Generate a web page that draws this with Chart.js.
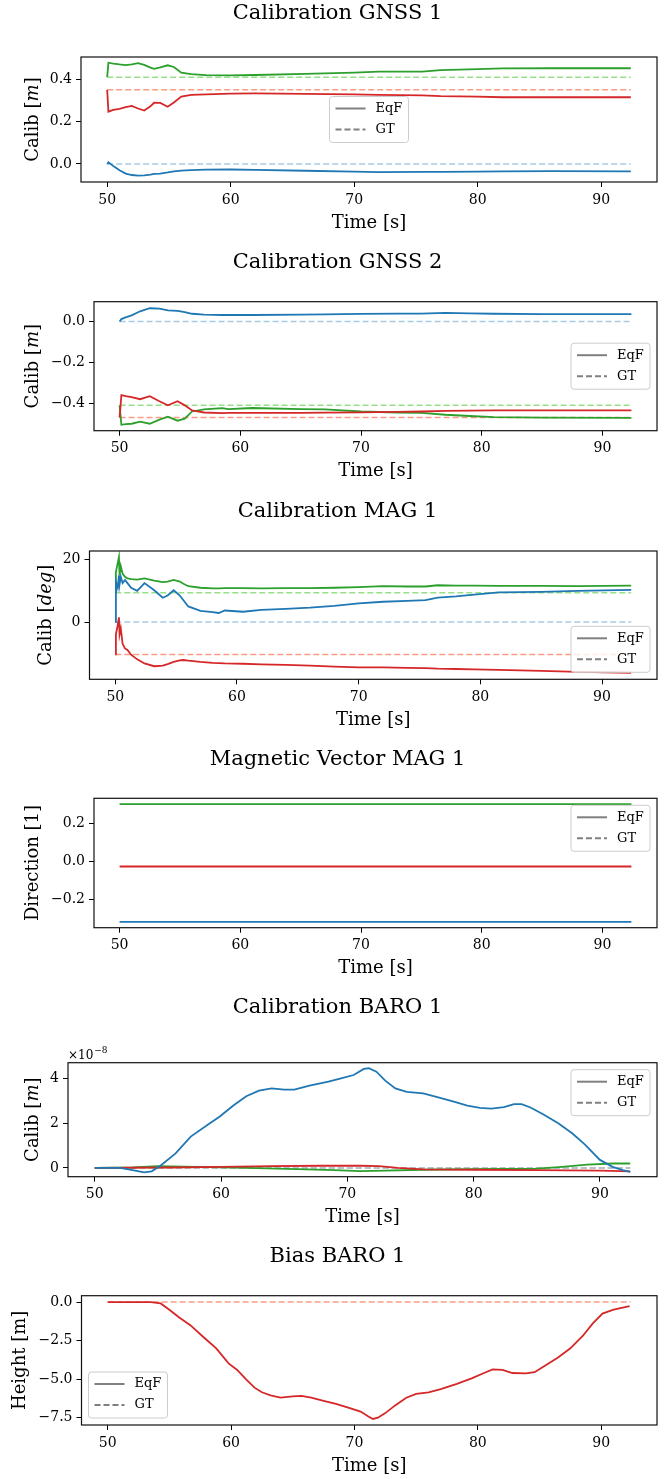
<!DOCTYPE html>
<html>
<head>
<meta charset="utf-8">
<script src="https://cdn.jsdelivr.net/npm/chart.js@4.4.0/dist/chart.umd.min.js"></script>
<style>
  body { margin: 0; background: #fff; width: 666px; height: 1479px; position: relative; overflow: hidden; }
  .panel { position: absolute; left: 0; width: 666px; height: 236px; }
</style>
</head>
<body>
<div class="panel" style="top:0px"><canvas id="c1" width="666" height="236"></canvas></div>
<div class="panel" style="top:249px"><canvas id="c2" width="666" height="236"></canvas></div>
<div class="panel" style="top:498px"><canvas id="c3" width="666" height="236"></canvas></div>
<div class="panel" style="top:746px"><canvas id="c4" width="666" height="236"></canvas></div>
<div class="panel" style="top:994px"><canvas id="c5" width="666" height="236"></canvas></div>
<div class="panel" style="top:1243px"><canvas id="c6" width="666" height="236"></canvas></div>
<script>
// ---- data ----
var xTicks = [50, 60, 70, 80, 90];
var legendLabels = ['EqF', 'GT'];
var gtT = [50, 92.4];

// Calibration GNSS 1
var g1T     = [50, 50.1, 50.5, 51, 51.5, 52, 52.5, 53, 53.5, 53.8, 54.3, 54.9, 55.4, 56, 56.8, 58, 60, 62, 66, 70, 72, 75.5, 77, 80, 82, 86, 92.4];
var g1Green = [0.41, 0.478, 0.474, 0.47, 0.467, 0.47, 0.476, 0.468, 0.455, 0.449, 0.456, 0.466, 0.458, 0.431, 0.424, 0.419, 0.418, 0.42, 0.425, 0.431, 0.436, 0.436, 0.443, 0.448, 0.451, 0.452, 0.452];
var g1Red   = [0.35, 0.247, 0.255, 0.26, 0.268, 0.274, 0.262, 0.252, 0.272, 0.289, 0.288, 0.27, 0.29, 0.318, 0.326, 0.329, 0.332, 0.333, 0.331, 0.329, 0.326, 0.324, 0.32, 0.318, 0.315, 0.315, 0.315];
var g1Blue  = [0, 0.008, -0.01, -0.03, -0.045, -0.052, -0.055, -0.054, -0.05, -0.047, -0.045, -0.04, -0.035, -0.031, -0.029, -0.027, -0.026, -0.028, -0.032, -0.036, -0.038, -0.037, -0.037, -0.036, -0.035, -0.034, -0.035];
var g1GT    = { blue: 0, green: 0.41, red: 0.35 };

// Calibration GNSS 2
var g2T     = [50, 50.15, 50.5, 51, 51.7, 52.5, 53.3, 54, 54.8, 55.4, 56, 57, 58.5, 59, 61, 65, 67, 70, 73, 75, 77, 79, 81, 85, 92.4];
var g2Blue  = [0, 0.012, 0.02, 0.03, 0.05, 0.065, 0.063, 0.055, 0.052, 0.046, 0.038, 0.034, 0.032, 0.032, 0.032, 0.034, 0.035, 0.037, 0.039, 0.039, 0.042, 0.04, 0.038, 0.036, 0.036];
var g2Red   = [-0.47, -0.36, -0.365, -0.37, -0.38, -0.365, -0.39, -0.41, -0.39, -0.41, -0.435, -0.445, -0.448, -0.447, -0.447, -0.447, -0.446, -0.444, -0.442, -0.44, -0.437, -0.436, -0.435, -0.435, -0.435];
var g2Green = [-0.41, -0.505, -0.502, -0.5, -0.49, -0.5, -0.48, -0.465, -0.485, -0.475, -0.44, -0.43, -0.424, -0.428, -0.423, -0.428, -0.43, -0.44, -0.445, -0.447, -0.456, -0.462, -0.468, -0.47, -0.471];
var g2GT    = { blue: 0, green: -0.41, red: -0.47 };

// Calibration MAG 1 (deg)
var m3T     = [50, 50.05, 50.2, 50.3, 50.35, 50.45, 50.6, 50.8, 51, 51.3, 51.8, 52.4, 53.2, 53.9, 54.3, 54.8, 55.3, 55.6, 56, 57, 58, 58.5, 59, 60.5, 62, 64, 66, 68, 70, 72, 74, 75.5, 76.5, 78, 79.5, 81.5, 85, 88, 92.4];
var m3Blue  = [0, 13, 11, 15, 12, 14.5, 12.5, 13.5, 12.5, 11, 10, 12.5, 10.2, 7.8, 8.5, 10.2, 8.5, 7, 5, 3.6, 3.2, 2.9, 3.7, 3.3, 3.9, 4.2, 4.6, 5.2, 6.0, 6.5, 6.8, 7.0, 7.8, 8.2, 8.8, 9.5, 9.7, 10.0, 10.3];
var m3Green = [9.4, 16, 19, 20.9, 15, 18, 15.5, 14.5, 14, 13.8, 13.6, 14, 13.3, 12.8, 13, 13.5, 13, 12.3, 11.5, 11, 10.8, 10.8, 10.9, 10.9, 10.8, 10.9, 10.9, 11, 11.2, 11.5, 11.4, 11.4, 11.8, 11.7, 11.7, 11.6, 11.6, 11.5, 11.7];
var m3Red   = [-10.4, -4, -1, 1.5, -4, -2, -7, -8.5, -9, -10.5, -12, -13.3, -14.2, -14, -13.5, -12.8, -12.3, -12.2, -12.4, -12.8, -13.1, -13.2, -13.3, -13.4, -13.6, -13.8, -14, -14.3, -14.6, -14.6, -14.7, -14.8, -15, -15.1, -15.2, -15.4, -15.7, -16, -16.3];
var m3GT    = { blue: 0, green: 9.4, red: -10.4 };

// Magnetic Vector MAG 1
var v4T     = [50, 92.4];
var v4Green = [0.303, 0.303];
var v4Red   = [-0.027, -0.027];
var v4Blue  = [-0.32, -0.32];

// Calibration BARO 1 (values in units of 1e-8 m)
var b5T     = [50, 52, 53, 53.9, 54.5, 55.2, 56.4, 57.6, 59, 59.9, 61, 62, 63, 64, 65, 65.8, 67, 68.5, 69.5, 70.5, 71.3, 71.7, 72.3, 73, 73.8, 74.7, 76, 77.2, 78.5, 79.5, 80.5, 81.4, 82.4, 83.2, 83.8, 84.5, 85.5, 86.7, 87.8, 88.8, 90, 91, 91.8, 92.4];
var b5Blue  = [0, 0, -0.1, -0.2, -0.15, 0.1, 0.65, 1.4, 1.95, 2.3, 2.8, 3.2, 3.45, 3.55, 3.5, 3.5, 3.68, 3.85, 4.0, 4.15, 4.42, 4.45, 4.3, 3.9, 3.55, 3.4, 3.33, 3.15, 2.95, 2.78, 2.68, 2.65, 2.72, 2.85, 2.85, 2.7, 2.4, 2.0, 1.55, 1.05, 0.36, 0.05, -0.1, -0.18];
var r5T     = [50, 56, 60, 64, 68, 71, 72.5, 74, 76, 80, 85, 90, 92.4];
var b5Red   = [0, 0.02, 0.05, 0.08, 0.1, 0.1, 0.08, 0, -0.06, -0.08, -0.1, -0.12, -0.15];
var g5T     = [50, 53, 55, 58, 62, 66, 69, 71, 73, 76, 80, 85, 87, 89, 91, 92.4];
var b5Green = [0, 0.02, 0.08, 0.05, 0, -0.05, -0.1, -0.14, -0.12, -0.08, -0.05, -0.03, 0.05, 0.15, 0.2, 0.2];
var b5GT    = { blue: 0, green: 0, red: 0 };

// Bias BARO 1
var h6T     = [50, 53.5, 54.3, 55, 55.8, 56.7, 57.8, 58.8, 59.8, 60.5, 61.2, 61.9, 62.5, 63.2, 64, 65, 65.7, 66.5, 67.5, 68.5, 69.5, 70.5, 71.1, 71.5, 71.9, 72.5, 73.3, 74.2, 75, 76, 77, 78.3, 79.5, 80.5, 81.2, 82, 82.8, 83.9, 84.6, 85.5, 86.5, 87.5, 88.5, 89.3, 90.1, 91, 92.3];
var h6Bias  = [0, 0, -0.09, -0.5, -1.0, -1.5, -2.3, -3.0, -3.98, -4.4, -5.0, -5.55, -5.85, -6.05, -6.19, -6.12, -6.08, -6.2, -6.4, -6.6, -6.85, -7.1, -7.4, -7.58, -7.5, -7.2, -6.7, -6.2, -5.95, -5.85, -5.65, -5.3, -4.95, -4.6, -4.37, -4.4, -4.6, -4.63, -4.55, -4.1, -3.6, -3.0, -2.2, -1.4, -0.75, -0.5, -0.26];
var h6GT    = 0;

// ---- styling helpers ----
var FONT = 'DejaVu Serif';
var C = { blue: '#1f77b4', green: '#2ca02c', red: '#d62728' };
var CL = { blue: '#a6cbe3', green: '#98df8a', red: '#fc9c85' };

function series(t, v) { return t.map(function (x, i) { return { x: x, y: v[i] }; }); }
function solid(t, v, color) {
  return { data: series(t, v), borderColor: color, borderWidth: 1.8, pointRadius: 0, fill: false, tension: 0 };
}
function dashed(value, color) {
  return { data: series(gtT, [value, value]), borderColor: color, borderWidth: 1.5, borderDash: [6, 3], pointRadius: 0, fill: false, tension: 0 };
}
function minusFmt(s) { return s.replace('-', '\u2212'); }

var frame = {
  id: 'frame',
  afterDatasetsDraw: function (chart) {
    var a = chart.chartArea, ctx = chart.ctx;
    ctx.save();
    ctx.strokeStyle = '#111';
    ctx.lineWidth = 1.2;
    ctx.strokeRect(a.left, a.top, a.right - a.left, a.bottom - a.top);
    ctx.restore();
  }
};

// y label with an optional italic unit, e.g. Calib [m] with m in italics
function yLabel(parts, xCenter) {
  return {
    id: 'yLabel',
    afterDraw: function (chart) {
      var a = chart.chartArea, ctx = chart.ctx;
      ctx.save();
      ctx.fillStyle = '#000';
      ctx.textBaseline = 'middle';
      ctx.textAlign = 'left';
      var fonts = parts.map(function (p) { return (p.it ? 'italic ' : '') + '18px "' + FONT + '"'; });
      var total = 0;
      parts.forEach(function (p, i) { ctx.font = fonts[i]; total += ctx.measureText(p.t).width; });
      ctx.translate(xCenter, (a.top + a.bottom) / 2);
      ctx.rotate(-Math.PI / 2);
      var x = -total / 2;
      parts.forEach(function (p, i) {
        ctx.font = fonts[i];
        ctx.fillText(p.t, x, 0);
        x += ctx.measureText(p.t).width;
      });
      ctx.restore();
    }
  };
}

function legendBox(loc) {
  return {
    id: 'legendBox',
    afterDraw: function (chart) {
      var a = chart.chartArea, ctx = chart.ctx;
      var w = 79, h = 46, pad = 7, x, y, r = 3;
      if (loc.indexOf('left') >= 0) x = a.left + pad;
      else if (loc.indexOf('right') >= 0) x = a.right - pad - w;
      else x = (a.left + a.right - w) / 2;
      if (loc.indexOf('upper') === 0) y = a.top + pad;
      else if (loc.indexOf('lower') === 0) y = a.bottom - pad - h;
      else y = (a.top + a.bottom - h) / 2;
      ctx.save();
      ctx.beginPath();
      ctx.moveTo(x + r, y);
      ctx.lineTo(x + w - r, y); ctx.quadraticCurveTo(x + w, y, x + w, y + r);
      ctx.lineTo(x + w, y + h - r); ctx.quadraticCurveTo(x + w, y + h, x + w - r, y + h);
      ctx.lineTo(x + r, y + h); ctx.quadraticCurveTo(x, y + h, x, y + h - r);
      ctx.lineTo(x, y + r); ctx.quadraticCurveTo(x, y, x + r, y);
      ctx.closePath();
      ctx.fillStyle = 'rgba(255,255,255,0.8)';
      ctx.fill();
      ctx.strokeStyle = '#cccccc';
      ctx.lineWidth = 1;
      ctx.stroke();
      for (var i = 0; i < legendLabels.length; i++) {
        var yy = y + 12 + i * 21;
        ctx.beginPath();
        ctx.setLineDash(i === 1 ? [6, 3] : []);
        ctx.strokeStyle = '#808080';
        ctx.lineWidth = 2;
        ctx.moveTo(x + 6, yy); ctx.lineTo(x + 36, yy);
        ctx.stroke();
        ctx.setLineDash([]);
        ctx.fillStyle = '#000';
        ctx.font = '13px "' + FONT + '"';
        ctx.textBaseline = 'middle';
        ctx.textAlign = 'left';
        ctx.fillText(legendLabels[i], x + 46, yy);
      }
      ctx.restore();
    }
  };
}

var offsetText = {
  id: 'offsetText',
  afterDraw: function (chart) {
    var a = chart.chartArea, ctx = chart.ctx;
    ctx.save();
    ctx.fillStyle = '#000';
    ctx.textBaseline = 'middle';
    ctx.textAlign = 'left';
    ctx.font = '12px "' + FONT + '"';
    ctx.fillText('\u00d710', a.left, a.top - 7);
    var w = ctx.measureText('\u00d710').width;
    ctx.font = '9px "' + FONT + '"';
    ctx.fillText('\u22128', a.left + w + 1, a.top - 12);
    ctx.restore();
  }
};

function makePanel(c) {
  var H = 236, padL = 18, padR = 9;
  var titleSize = 21, titleLH = titleSize * 1.2, titleMid = 14;
  var labSize = 18, labLH = labSize * 1.2;
  var tickFont = { family: FONT, size: 14 };
  new Chart(document.getElementById(c.id), {
    type: 'line',
    data: { datasets: c.datasets },
    options: {
      responsive: false,
      animation: false,
      devicePixelRatio: 1,
      layout: { padding: { left: padL, right: padR, top: 0, bottom: 0 } },
      plugins: {
        legend: { display: false },
        tooltip: { enabled: false },
        title: {
          display: true, text: c.title, color: '#000',
          font: { family: FONT, size: titleSize, weight: 'normal' },
          padding: { top: titleMid - titleLH / 2, bottom: c.boxTop - titleMid - titleLH / 2 }
        }
      },
      scales: {
        x: {
          type: 'linear', min: 47.88, max: 94.52,
          afterBuildTicks: function (s) { s.ticks = xTicks.map(function (v) { return { value: v }; }); },
          afterFit: function (s) { s.height = H - c.boxBottom; },
          ticks: { font: tickFont, color: '#000', padding: 4.5, maxRotation: 0, autoSkip: false,
                   callback: function (v) { return String(v); } },
          grid: { drawOnChartArea: false, drawTicks: true, tickLength: 5, color: '#000' },
          border: { display: false },
          title: { display: true, text: 'Time [s]', color: '#000', font: { family: FONT, size: labSize },
                   padding: { top: 0, bottom: H - labLH / 2 - (c.boxBottom + 41) } }
        },
        y: {
          min: c.yMin, max: c.yMax,
          afterBuildTicks: function (s) { s.ticks = c.yTicks.map(function (v) { return { value: v }; }); },
          afterFit: function (s) { s.width = c.boxLeft - padL; },
          ticks: { font: tickFont, color: '#000', padding: 4,
                   callback: function (v) {
                     for (var i = 0; i < c.yTicks.length; i++) {
                       if (Math.abs(c.yTicks[i] - v) < 1e-9) return minusFmt(c.yTickLabels[i]);
                     }
                     return '';
                   } },
          grid: { drawOnChartArea: false, drawTicks: true, tickLength: 5, color: '#000' },
          border: { display: false },
          title: { display: false }
        }
      }
    },
    plugins: [frame, yLabel(c.yLabel, c.yTitleX), legendBox(c.legend)].concat(c.extra ? [c.extra] : [])
  });
}

makePanel({
  id: 'c1', title: 'Calibration GNSS 1', yLabel: [{ t: 'Calib [' }, { t: 'm', it: true }, { t: ']' }],
  yMin: -0.085, yMax: 0.505, yTicks: [0, 0.2, 0.4], yTickLabels: ['0.0', '0.2', '0.4'],
  boxTop: 57, boxBottom: 182, boxLeft: 81, yTitleX: 33, legend: 'center',
  datasets: [
    solid(g1T, g1Blue, C.blue), solid(g1T, g1Red, C.red), solid(g1T, g1Green, C.green),
    dashed(g1GT.blue, CL.blue), dashed(g1GT.red, CL.red), dashed(g1GT.green, CL.green)
  ]
});

makePanel({
  id: 'c2', title: 'Calibration GNSS 2', yLabel: [{ t: 'Calib [' }, { t: 'm', it: true }, { t: ']' }],
  yMin: -0.534, yMax: 0.097, yTicks: [-0.4, -0.2, 0], yTickLabels: ['-0.4', '-0.2', '0.0'],
  boxTop: 52.7, boxBottom: 181.7, boxLeft: 94, yTitleX: 33, legend: 'center right',
  datasets: [
    solid(g2T, g2Blue, C.blue), solid(g2T, g2Red, C.red), solid(g2T, g2Green, C.green),
    dashed(g2GT.blue, CL.blue), dashed(g2GT.red, CL.red), dashed(g2GT.green, CL.green)
  ]
});

makePanel({
  id: 'c3', title: 'Calibration MAG 1', yLabel: [{ t: 'Calib [' }, { t: 'deg', it: true }, { t: ']' }],
  yMin: -18.4, yMax: 22.8, yTicks: [0, 20], yTickLabels: ['0', '20'],
  boxTop: 53, boxBottom: 181.3, boxLeft: 89.5, yTitleX: 46, legend: 'lower right',
  datasets: [
    solid(m3T, m3Blue, C.blue), solid(m3T, m3Red, C.red), solid(m3T, m3Green, C.green),
    dashed(m3GT.blue, CL.blue), dashed(m3GT.red, CL.red), dashed(m3GT.green, CL.green)
  ]
});

makePanel({
  id: 'c4', title: 'Magnetic Vector MAG 1', yLabel: [{ t: 'Direction [1]' }],
  yMin: -0.351, yMax: 0.334, yTicks: [-0.2, 0, 0.2], yTickLabels: ['-0.2', '0.0', '0.2'],
  boxTop: 52.3, boxBottom: 181.7, boxLeft: 94, yTitleX: 33, legend: 'upper right',
  datasets: [
    solid(v4T, v4Blue, C.blue), solid(v4T, v4Red, C.red), solid(v4T, v4Green, C.green)
  ]
});

makePanel({
  id: 'c5', title: 'Calibration BARO 1', yLabel: [{ t: 'Calib [' }, { t: 'm', it: true }, { t: ']' }],
  yMin: -0.39, yMax: 4.70, yTicks: [0, 2, 4], yTickLabels: ['0', '2', '4'],
  boxTop: 68.7, boxBottom: 182.7, boxLeft: 68, yTitleX: 33, legend: 'upper right',
  extra: offsetText,
  datasets: [
    solid(b5T, b5Blue, C.blue), solid(r5T, b5Red, C.red), solid(g5T, b5Green, C.green),
    dashed(b5GT.blue, CL.blue), dashed(b5GT.red, CL.red), dashed(b5GT.green, CL.green)
  ]
});

makePanel({
  id: 'c6', title: 'Bias BARO 1', yLabel: [{ t: 'Height [m]' }],
  yMin: -7.97, yMax: 0.41, yTicks: [-7.5, -5, -2.5, 0], yTickLabels: ['-7.5', '-5.0', '-2.5', '0.0'],
  boxTop: 52.7, boxBottom: 182, boxLeft: 81.5, yTitleX: 20, legend: 'lower left',
  datasets: [
    solid(h6T, h6Bias, C.red), dashed(h6GT, CL.red)
  ]
});
</script>
</body>
</html>
